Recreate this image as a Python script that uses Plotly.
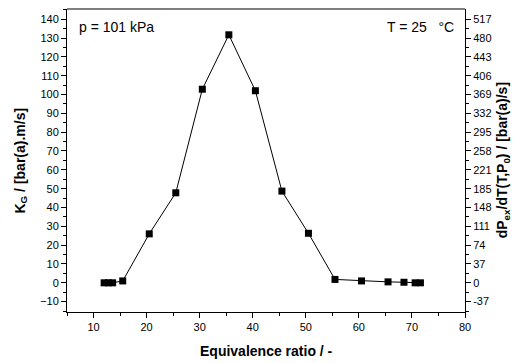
import plotly.graph_objects as go

# Data
equiv_ratio = [12.0, 12.8, 13.6, 15.5, 20.5, 25.5, 30.5, 35.5, 40.5, 45.5, 50.5, 55.5, 60.5, 65.5, 68.5, 70.6, 71.6]
kg_values = [0.0, 0.0, 0.0, 1.0, 26.0, 47.8, 102.8, 131.7, 102.0, 48.7, 26.3, 1.8, 1.0, 0.5, 0.3, 0.0, 0.0]

left_ticks = [-10, 0, 10, 20, 30, 40, 50, 60, 70, 80, 90, 100, 110, 120, 130, 140]
right_tick_labels = ["-37", "0", "37", "74", "111", "148", "185", "221", "258", "295",
                     "332", "369", "406", "443", "480", "517"]
x_ticks = [10, 20, 30, 40, 50, 60, 70, 80]
ratio = 517 / 140

y_range = [-15.5, 145.4]
x_range = [5, 80]

font_family = "Liberation Sans, Arial, sans-serif"

fig = go.Figure()
fig.add_trace(go.Scatter(
    x=equiv_ratio, y=kg_values, mode="lines+markers",
    line=dict(color="black", width=1),
    marker=dict(symbol="square", size=7, color="black"),
    showlegend=False, hoverinfo="skip"))
# invisible trace to activate right axis
fig.add_trace(go.Scatter(
    x=[equiv_ratio[0]], y=[kg_values[0] * ratio], yaxis="y2",
    mode="markers", marker=dict(opacity=0), showlegend=False, hoverinfo="skip"))

axis_common = dict(
    showline=True, linecolor="black", linewidth=1, mirror=False,
    ticks="outside", ticklen=5, tickwidth=1, tickcolor="black",
    showgrid=False, zeroline=False, automargin=False,
    tickfont=dict(family=font_family, size=11, color="black"),
)

title_font = dict(family=font_family, size=14, color="black")

fig.update_layout(
    width=522, height=363,
    margin=dict(l=67, r=57, t=9, b=51),
    paper_bgcolor="white", plot_bgcolor="white",
    font=dict(family=font_family, color="black"),
    xaxis=dict(
        range=x_range, tickvals=x_ticks,
        minor=dict(ticks="outside", ticklen=3, tickcolor="black", dtick=5, tick0=0),
        **axis_common),
    yaxis=dict(
        range=y_range, tickvals=left_ticks,
        minor=dict(ticks="outside", ticklen=3, tickcolor="black", dtick=5, tick0=0),
        **axis_common),
    yaxis2=dict(
        overlaying="y", side="right",
        range=[y_range[0] * ratio, y_range[1] * ratio],
        tickvals=[v * ratio for v in left_ticks], ticktext=right_tick_labels,
        minor=dict(ticks="outside", ticklen=3, tickcolor="black",
                   tickvals=[(v + 5) * ratio for v in left_ticks[:-1]] + [-15 * ratio]),
        **axis_common),
    shapes=[
        dict(type="line", xref="paper", yref="paper", x0=0, x1=1, y0=1, y1=1,
             line=dict(color="black", width=1)),
    ],
    annotations=[
        dict(text="p = 101 kPa", xref="paper", yref="paper", x=0.025, y=0.975,
             xanchor="left", yanchor="top", showarrow=False,
             font=dict(family=font_family, size=14)),
        dict(text="T = 25   °C", xref="paper", yref="paper", x=0.978, y=0.975,
             xanchor="right", yanchor="top", showarrow=False,
             font=dict(family=font_family, size=14)),
        dict(text="<b>Equivalence ratio / -</b>", xref="paper", yref="paper",
             x=0.5, y=-0.13, xanchor="center", yanchor="middle", showarrow=False,
             font=title_font),
        dict(text="<b>K<sub>G</sub> / [bar(a).m/s]</b>", xref="paper", yref="paper",
             x=-0.118, y=0.5, xanchor="center", yanchor="middle", textangle=-90,
             showarrow=False, font=title_font),
        dict(text="<b>dP<sub>ex</sub>/dT(T,P<sub>0</sub>) / [bar(a)/s]</b>",
             xref="paper", yref="paper",
             x=1.095, y=0.5, xanchor="center", yanchor="middle", textangle=-90,
             showarrow=False, font=title_font),
    ],
)

fig.write_html("out.html",
               config={"displayModeBar": False},
               post_script="document.body.style.margin='0';document.body.style.padding='0';")
